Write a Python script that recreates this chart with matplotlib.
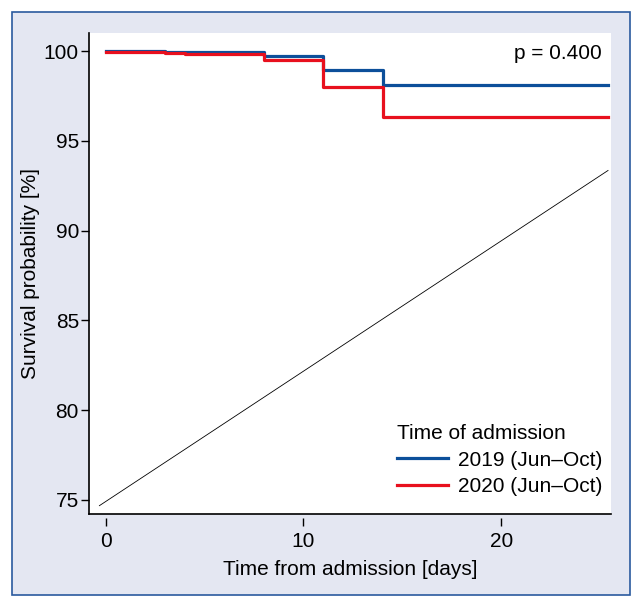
import matplotlib
matplotlib.use("Agg")
import matplotlib.pyplot as plt
from matplotlib.patches import Rectangle

plt.rcParams['font.family'] = ['Liberation Sans', 'DejaVu Sans']

# Data
t_2019 = [0, 3, 8, 11, 14, 25.4]
s_2019 = [100.0, 99.93, 99.72, 98.94, 98.1, 98.1]
t_2020 = [0, 3, 4, 8, 11, 14, 25.4]
s_2020 = [99.97, 99.9, 99.82, 99.5, 97.98, 96.34, 96.34]
ref_x = [-0.32, 25.4]
ref_y = [74.68, 93.35]
xticks = [0, 10, 20]
yticks = [75, 80, 85, 90, 95, 100]
labels = ['2019 (Jun\u2013Oct)', '2020 (Jun\u2013Oct)']
p_text = 'p = 0.400'

W, H = 643, 608
FS = 15
fig = plt.figure(figsize=(W/100, H/100), dpi=100)
fig.patch.set_facecolor('white')
fig.patches.append(Rectangle((12/W, 1-595/H), (630-12)/W, (595-12)/H,
                             transform=fig.transFigure, facecolor='#e4e7f2',
                             edgecolor='#2a5a9e', linewidth=1.2, zorder=-5))

ax = fig.add_axes([89.3/W, 1-514.3/H, (611-89.3)/W, (514.3-33.3)/H])
ax.set_zorder(2)
ax.set_facecolor('white')

ax.plot(ref_x, ref_y, color='black', lw=0.6)
ax.step(t_2019, s_2019, where='post', color='#0c4f9a', lw=2.3, label=labels[0])
ax.step(t_2020, s_2020, where='post', color='#e8101e', lw=2.3, label=labels[1])

ax.set_xlim(-0.83, 25.55)
ax.set_ylim(74.2, 100.99)
ax.set_xticks(xticks)
ax.set_yticks(yticks)

for s in ['top', 'right']:
    ax.spines[s].set_visible(False)
ax.spines['left'].set_linewidth(1.2)
ax.spines['bottom'].set_position(('outward', 3))
ax.spines['bottom'].set_visible(False)
ax.plot([0, 1], [0, 0], transform=ax.transAxes, color='black', lw=1.2, clip_on=False)

ax.tick_params(axis='y', direction='out', length=6, width=1.0, pad=1.5, labelsize=FS)
ax.tick_params(axis='x', direction='out', length=6, width=1.0, pad=4, labelsize=FS)

ax.set_xlabel('Time from admission [days]', fontsize=FS, labelpad=6)
ax.set_ylabel('Survival probability [%]', fontsize=FS, labelpad=3)

ax.text(0.983, 0.958, p_text, transform=ax.transAxes, ha='right', va='center', fontsize=FS)

leg = ax.legend(title='Time of admission', loc='lower right', bbox_to_anchor=(1.012, 0.008),
                frameon=False, fontsize=FS, title_fontsize=FS, handlelength=2.45,
                handletextpad=0.5, labelspacing=0.35, alignment='left', borderpad=0.2)

fig.savefig('out.png', dpi=100)
